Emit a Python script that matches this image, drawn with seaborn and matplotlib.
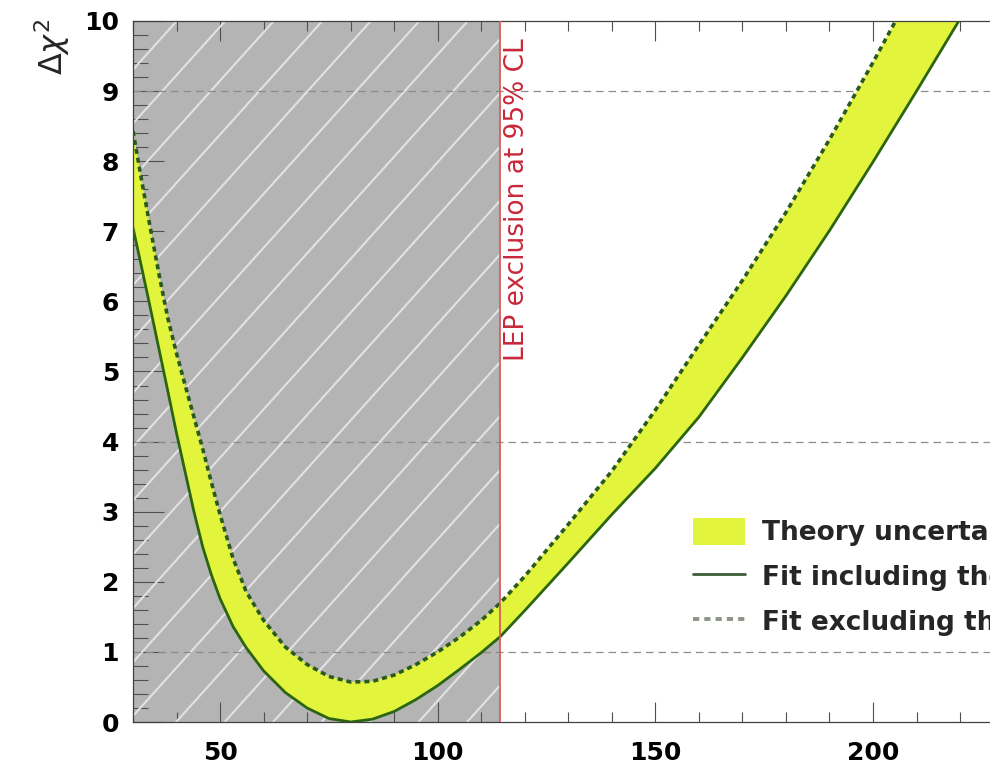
import numpy as np
import matplotlib
matplotlib.use("Agg")
import matplotlib.pyplot as plt
import seaborn as sns
from matplotlib.patches import Patch
from matplotlib.lines import Line2D
from matplotlib.ticker import MultipleLocator

# ---------------- data ----------------
mh = [30, 32, 34, 36, 38, 40, 42, 44, 46, 48, 50, 53, 56, 60, 65, 70, 75, 80,
      85, 90, 95, 100, 105, 110, 114.4, 120, 130, 140, 150, 160, 170, 180,
      190, 200, 210, 220, 230]
dchi2_incl = [7.05, 6.48, 5.90, 5.31, 4.72, 4.12, 3.56, 3.00, 2.50, 2.10, 1.76,
              1.36, 1.06, 0.73, 0.42, 0.20, 0.05, 0.00, 0.04, 0.15, 0.32, 0.52,
              0.75, 0.99, 1.22, 1.59, 2.27, 2.96, 3.62, 4.35, 5.20, 6.08, 7.01,
              7.99, 9.00, 10.03, 11.08]
dchi2_excl = [8.43, 7.72, 7.04, 6.38, 5.76, 5.26, 4.80, 4.35, 3.90, 3.42, 2.96,
              2.33, 1.86, 1.45, 1.07, 0.82, 0.65, 0.57, 0.58, 0.67, 0.82, 1.00,
              1.21, 1.45, 1.70, 2.08, 2.82, 3.58, 4.45, 5.38, 6.30, 7.27, 8.31,
              9.41, 10.55, 11.70, 12.85]
lep_limit = 114.4
ref_levels = [1, 4, 9]
x_ticks = [50, 100, 150, 200]
y_ticks = list(range(0, 11))
legend_labels = ["Theory uncertainty", "Fit including theory errors",
                 "Fit excluding theory errors"]
lep_text = "LEP exclusion at 95% CL"
y_label = r"$\Delta\chi^2$"

# ---------------- style ----------------
sns.set_theme(style="ticks")
plt.rcParams["font.family"] = ["DejaVu Sans"]
plt.rcParams["mathtext.fontset"] = "dejavusans"

YELLOW = "#e2f53c"
GREEN = "#2c6510"
DOTGREEN = "#2b5a1c"
GRAY_FILL = "#b4b4b4"
HATCH = "#e2e2e2"
RED_LINE = "#dd5c5c"
RED_TEXT = "#c8283a"

W, H = 990, 770
fig = plt.figure(figsize=(W / 100, H / 100), dpi=100)
px_x = 4.353          # pixels per GeV
left_px, bot_px, top_px = 133, 722, 21
xmin, xmax = 30, 300
px_y = (bot_px - top_px) / 10.0
ax = fig.add_axes([left_px / W, (H - bot_px) / H,
                   (xmax - xmin) * px_x / W, (bot_px - top_px) / H])

# excluded region with diagonal hatch
rect = ax.axvspan(xmin, lep_limit, color=GRAY_FILL, lw=0, zorder=0)
ang = np.deg2rad(48)
k = np.tan(ang) * px_x / px_y
spacing = 48.5 / px_x
xs = np.array([-300.0, 600.0])
for n in range(-4, 24):
    xn = 36.7 + spacing * n
    ln, = ax.plot(xs, 9 + k * (xs - xn), color=HATCH, lw=1.5, zorder=1)
    ln.set_clip_path(rect)

# reference levels
for lvl in ref_levels:
    ax.axhline(lvl, color="#8c8c8c", lw=0.9, ls=(0, (6, 4)), zorder=1.5)

# band and curves
ax.fill_between(mh, dchi2_incl, dchi2_excl, color=YELLOW, lw=0, zorder=2)
sns.lineplot(x=mh, y=dchi2_incl, ax=ax, color=GREEN, lw=2.0, zorder=3,
             sort=False, estimator=None)
sns.lineplot(x=mh, y=dchi2_excl, ax=ax, color=DOTGREEN, lw=2.6, zorder=3,
             sort=False, estimator=None, linestyle=(0, (1.4, 1.1)))

# LEP exclusion line and label
ax.axvline(lep_limit, color=RED_LINE, lw=1.3, zorder=4)
ax.text(118.3, 5.15, lep_text, rotation=90, ha="center", va="bottom",
        color=RED_TEXT, fontsize=19)

# axes
ax.set_xlim(xmin, xmax)
ax.set_ylim(0, 10)
ax.set_xticks(x_ticks)
ax.set_xticklabels([str(t) for t in x_ticks])
ax.set_yticks(y_ticks)
ax.set_yticklabels([str(t) for t in y_ticks])
ax.xaxis.set_minor_locator(MultipleLocator(10))
ax.yaxis.set_minor_locator(MultipleLocator(0.2))
TC = "#505050"
ax.tick_params(axis="x", which="major", direction="in", length=14.5, width=0.8,
               top=True, bottom=True, color=TC, labelsize=18, pad=14,
               labelcolor="black")
ax.tick_params(axis="x", which="minor", direction="in", length=7, width=0.8,
               top=True, bottom=True, color=TC)
ax.tick_params(axis="y", which="major", direction="in", length=22, width=0.8,
               left=True, right=False, color=TC, labelsize=18, pad=10,
               labelcolor="black")
ax.tick_params(axis="y", which="minor", direction="in", length=11, width=0.8,
               left=True, right=False, color=TC)
for lab in ax.get_xticklabels() + ax.get_yticklabels():
    lab.set_fontweight("bold")
for s in ax.spines.values():
    s.set_color("#404040")
    s.set_linewidth(0.9)
ax.set_xlabel("")
ax.set_ylabel("")

fig.text(52 / W, 1 - 19 / H, y_label, rotation=90, ha="center", va="top",
         fontsize=23)

# legend
handles = [Patch(facecolor=YELLOW, edgecolor="none"),
           Line2D([], [], color="#3d5e35", lw=2.0),
           Line2D([], [], color="#8c9488", lw=2.8, ls=(0, (1.6, 1.3)))]
ax.legend(handles, legend_labels, loc="upper left",
          bbox_to_anchor=(xmin + (693 - left_px) / px_x, (bot_px - 518) / px_y),
          bbox_transform=ax.transData, frameon=False,
          prop={"size": 19, "weight": "bold"}, handlelength=1.97,
          handleheight=1.2, handletextpad=0.64, labelspacing=0.62,
          borderpad=0, borderaxespad=0)

fig.savefig("out.png", dpi=100)
